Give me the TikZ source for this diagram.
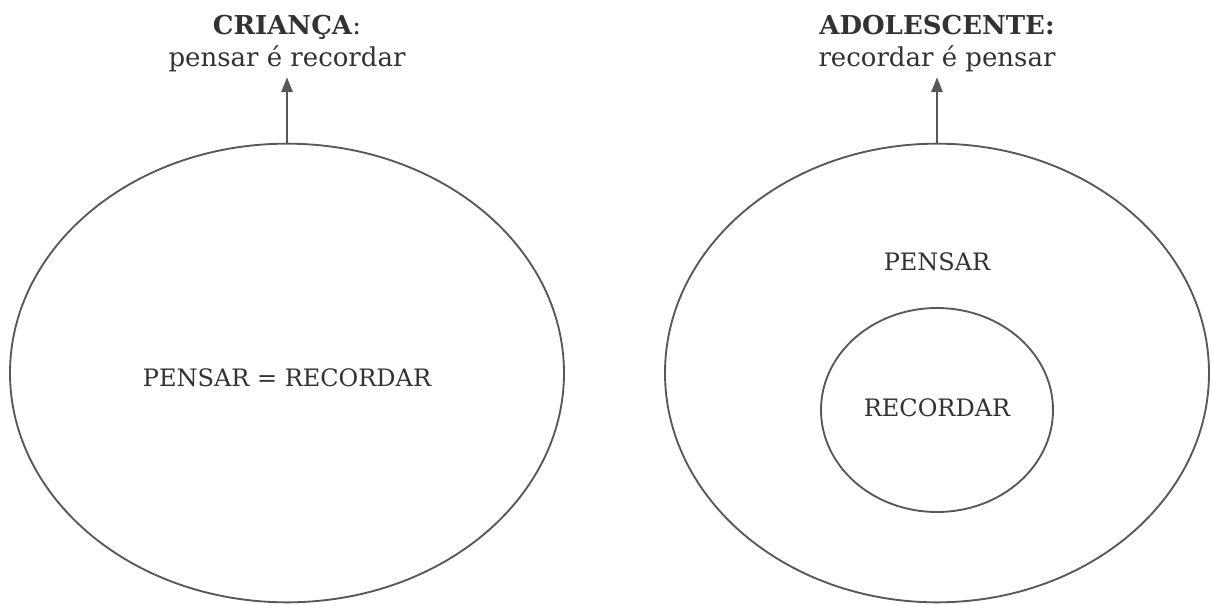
\documentclass[tikz,border=0pt]{standalone}
\usepackage{fontspec}
\setmainfont{DejaVu Serif}
\usetikzlibrary{shapes.geometric,arrows.meta}
\definecolor{linegray}{RGB}{88,88,88}
\definecolor{textgray}{RGB}{50,50,50}
\tikzset{
  ring/.style={draw=linegray, line width=1.4pt, ellipse, inner sep=0pt},
  label/.style={text=textgray, font=\fontsize{18}{24}\selectfont, inner sep=0pt},
  title/.style={label, font=\fontsize{19.5}{24}\selectfont, align=center, anchor=north, outer sep=4pt},
  upto/.style={draw=linegray, line width=1.3pt, -{Triangle[length=11pt,width=8.5pt]}}
}
\begin{document}
\begin{tikzpicture}[x=0.75pt,y=0.75pt,yscale=-1,xscale=1]
\useasboundingbox (0,0) rectangle (1211,604);

%Shape: Ellipse left
\node[ring, minimum width=415.5pt, minimum height=344pt] (crianca) at (287,373) {};
%Shape: Ellipse right
\node[ring, minimum width=408pt, minimum height=344pt] (adolescente) at (937,373) {};
%Shape: Ellipse inner
\node[ring, minimum width=174pt, minimum height=153pt] (recordar) at (937,410) {};

% Text Node
\node[label] (igual) at (287,378) {PENSAR = RECORDAR};
% Text Node
\node[label] (pensar) at (937,262) {PENSAR};
% Text Node
\node[label] (lembra) at (937,408) {RECORDAR};

% Text Node
\node[title] (tcrianca) at (287,10) {\textbf{CRIANÇA}:\\pensar é recordar};
% Text Node
\node[title] (tadolescente) at (937,10) {\textbf{ADOLESCENTE:}\\recordar é pensar};

%Straight Lines
\draw[upto] (crianca.north) -- (tcrianca.south);
%Straight Lines
\draw[upto] (adolescente.north) -- (tadolescente.south);

\end{tikzpicture}
\end{document}
